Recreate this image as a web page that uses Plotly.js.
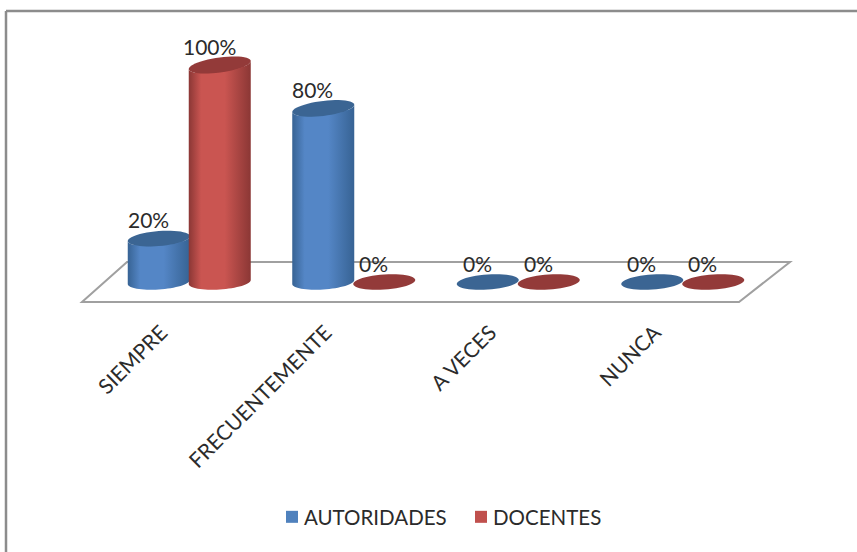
<!DOCTYPE html>
<html>
<head>
<meta charset="utf-8">
<script src="https://cdn.plot.ly/plotly-3.0.1.min.js"></script>
<style>html,body{margin:0;padding:0;background:#fff;overflow:hidden}#chart{width:857px;height:552px}</style>
</head>
<body>
<div id="chart"></div>
<script>
// Survey answers by frequency, percentages per respondent group
const categories = ['SIEMPRE', 'FRECUENTEMENTE', 'A VECES', 'NUNCA'];
const autoridades = [20, 80, 0, 0];
const docentes = [100, 0, 0, 0];

const W = 857, H = 552;
const plotBottom = 303;           // front edge of the floor, in page pixels
const pxPerUnit = 2.17;           // vertical pixels per percentage point
const zeroPx = 282;               // page y of the zero level
const xStart = 189.25, xStep = 164.5;

// Page pixel helpers, used for the frame, floor and axis ranges
const xv = px => (px - xStart) / xStep;
const yv = py => (zeroPx - py) / pxPerUnit;
const xp = px => px / W;
const yp = py => (plotBottom - py) / plotBottom;

const halfW = 31 / xStep, slot = 30.5 / xStep;
const capB = 7.5;                 // vertical semi-axis of a cylinder cap, px

// Points of a tilted ellipse for parameter angles in [from, to]
function arc(cx, value, from, to, n) {
  const tilt = (4 + 4 * value / 100) / 2;
  const xs = [], ys = [];
  for (let i = 0; i <= n; i++) {
    const t = from + (to - from) * i / n;
    xs.push(cx + halfW * Math.cos(t));
    ys.push(value + (tilt * Math.cos(t) + capB * Math.sin(t)) / pxPerUnit);
  }
  return {xs, ys};
}

function cylinderTraces(cx, value, edge, mid, cap) {
  const out = [];
  if (value > 0) {
    const bottom = arc(cx, 0, Math.PI, 2 * Math.PI, 32);
    const top = arc(cx, value, 2 * Math.PI, Math.PI, 32);
    out.push({
      type: 'scatter', mode: 'none', showlegend: false, hoverinfo: 'skip',
      x: bottom.xs.concat(top.xs), y: bottom.ys.concat(top.ys),
      fill: 'toself',
      fillgradient: {type: 'horizontal', colorscale: [[0, edge], [0.2, mid], [0.58, mid], [1, edge]]}
    });
  }
  const lid = arc(cx, value, 0, 2 * Math.PI, 48);
  out.push({
    type: 'scatter', mode: 'none', showlegend: false, hoverinfo: 'skip',
    x: lid.xs, y: lid.ys, fill: 'toself', fillcolor: cap
  });
  return out;
}

const index = categories.map((_, i) => i);
const series = [
  {name: 'AUTORIDADES', values: autoridades, color: '#4f81bd', edge: '#376394', mid: '#5486c6', cap: '#3b6593', side: -1},
  {name: 'DOCENTES', values: docentes, color: '#c0504d', edge: '#8b3735', mid: '#ca5551', cap: '#933a39', side: 1}
];

// Plain bars carry the legend entries; the cylinders are drawn over them
const traces = series.map(s => ({
  type: 'bar', name: s.name, x: index, y: s.values,
  width: 0.3, offset: s.side * slot - 0.15,
  marker: {color: s.color, line: {width: 0}}, hoverinfo: 'y'
}));
index.forEach(i => series.forEach(s => {
  traces.push(...cylinderTraces(i + s.side * slot, s.values[i], s.edge, s.mid, s.cap));
}));

const textColor = '#2b2b2b';
const labelFont = {family: 'Lato, Carlito, sans-serif', size: 21, color: textColor};
const annotations = [];
index.forEach(i => series.forEach(s => annotations.push({
  x: i + s.side * slot, y: s.values[i], text: s.values[i] + '%', showarrow: false,
  xshift: -10.5, yshift: 19, font: labelFont
})));

const frameColor = '#8c8c8c';
const floorPath = 'M' + [[82, 302], [739, 302], [790, 262], [127, 262]]
  .map(p => xv(p[0]) + ',' + yv(p[1])).join('L') + 'Z';
const shapes = [
  {type: 'path', layer: 'below', xref: 'x', yref: 'y', path: floorPath,
   line: {color: '#a0a0a0', width: 2}, fillcolor: 'rgba(0,0,0,0)'},
  {type: 'line', layer: 'below', xref: 'paper', yref: 'paper', x0: xp(6), x1: xp(857), y0: yp(11), y1: yp(11),
   line: {color: frameColor, width: 2.5}},
  {type: 'line', layer: 'below', xref: 'paper', yref: 'paper', x0: xp(6), x1: xp(6), y0: yp(11), y1: yp(552),
   line: {color: frameColor, width: 2.5}}
];

const layout = {
  width: W, height: H,
  margin: {l: 0, r: 0, t: 0, b: H - plotBottom, pad: 0},
  paper_bgcolor: '#fff', plot_bgcolor: 'rgba(0,0,0,0)',
  barmode: 'overlay',
  xaxis: {
    type: 'linear', range: [xv(0), xv(W)], showgrid: false, zeroline: false, showline: false,
    tickmode: 'array', tickvals: index.map(i => i - 0.17), ticktext: categories,
    tickangle: -45, ticks: 'outside', ticklen: 8, tickcolor: 'rgba(0,0,0,0)',
    tickfont: {family: 'Lato, Carlito, sans-serif', size: 21, color: textColor}
  },
  yaxis: {
    type: 'linear', range: [yv(plotBottom), yv(0)], showgrid: false, zeroline: false,
    showline: false, showticklabels: false, ticks: ''
  },
  showlegend: true,
  legend: {
    orientation: 'h', x: 264 / W, xanchor: 'left', y: yp(497), yanchor: 'top',
    entrywidth: 144, entrywidthmode: 'pixels',
    font: {family: 'Lato, Carlito, sans-serif', size: 20.5, color: textColor},
    itemclick: false, itemdoubleclick: false, bgcolor: 'rgba(0,0,0,0)'
  },
  shapes, annotations
};

Plotly.newPlot('chart', traces, layout, {staticPlot: true, displayModeBar: false}).then(() => {
  // Tighten the gap between each legend swatch and its text
  document.querySelectorAll('#chart .legendpoints').forEach(g => g.setAttribute('transform', 'translate(8,0)'));
});
</script>
</body>
</html>
